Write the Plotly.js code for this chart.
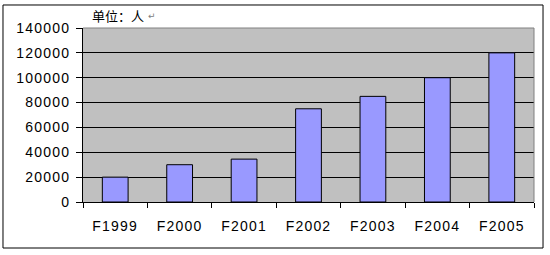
<!DOCTYPE html>
<html>
<head>
<meta charset="utf-8">
<script src="https://cdn.plot.ly/plotly-3.0.1.min.js"></script>
<style>
html,body{margin:0;padding:0;background:#fff;}
#chart{width:550px;height:255px;}
.xtick text,.ytick text{letter-spacing:1.2px;}
</style>
</head>
<body>
<div id="chart"></div>
<script>
var categories = ["F1999","F2000","F2001","F2002","F2003","F2004","F2005"];
var values = [20000, 30000, 34500, 75000, 85000, 100000, 120000];
var yTicks = [0,20000,40000,60000,80000,100000,120000,140000];
var titleText = "单位：人";

var trace = {
  type: "bar",
  x: categories,
  y: values,
  marker: {color: "#9999ff", line: {color: "#000000", width: 1}},
  hoverinfo: "skip"
};

var layout = {
  width: 550, height: 255,
  margin: {l: 83, r: 16, t: 28, b: 53, pad: 0},
  paper_bgcolor: "#ffffff",
  plot_bgcolor: "#c0c0c0",
  bargap: 0.6,
  showlegend: false,
  font: {family: "Liberation Sans, Arial, sans-serif", size: 13, color: "#000"},
  xaxis: {
    type: "category",
    showgrid: false,
    showline: true, linecolor: "#000", linewidth: 1,
    ticks: "outside", ticklen: 5, tickcolor: "#000",
    tickson: "boundaries",
    ticklabelstandoff: 11,
    tickfont: {family: "Liberation Sans, Arial, sans-serif", size: 14, color: "#000"},
    fixedrange: true
  },
  yaxis: {
    range: [0, 140000],
    tickvals: yTicks,
    ticktext: yTicks.map(String),
    showgrid: true, gridcolor: "#000", gridwidth: 1,
    zeroline: false,
    showline: true, linecolor: "#000", linewidth: 1,
    ticks: "outside", ticklen: 6, tickcolor: "#000",
    ticklabelstandoff: 3,
    tickfont: {family: "Liberation Sans, Arial, sans-serif", size: 14, color: "#000"},
    fixedrange: true
  },
  shapes: [
    {type: "line", xref: "paper", yref: "paper", x0: 0, x1: 1, y0: 1, y1: 1, line: {color: "#808080", width: 1}},
    {type: "line", xref: "paper", yref: "paper", x0: 1, x1: 1, y0: 0, y1: 1, line: {color: "#808080", width: 1}},
    {type: "rect", xref: "paper", yref: "paper", x0: -0.1774, x1: 1.0200, y0: -0.2644, y1: 1.1322, line: {color: "#000", width: 1}, fillcolor: "rgba(0,0,0,0)", layer: "below"}
  ],
  annotations: [
    {xref: "paper", yref: "paper", x: (90-83)/451, y: (202-15)/174, xanchor: "left", yanchor: "middle",
     text: titleText, showarrow: false,
     font: {family: "Noto Sans CJK SC", size: 13, color: "#000"}},
    {xref: "paper", yref: "paper", x: (146-83)/451, y: (202-16)/174, xanchor: "left", yanchor: "middle",
     text: "↵", showarrow: false,
     font: {family: "DejaVu Sans", size: 9, color: "#808080"}}
  ]
};

Plotly.newPlot("chart", [trace], layout, {displayModeBar: false, staticPlot: true});
</script>
</body>
</html>
